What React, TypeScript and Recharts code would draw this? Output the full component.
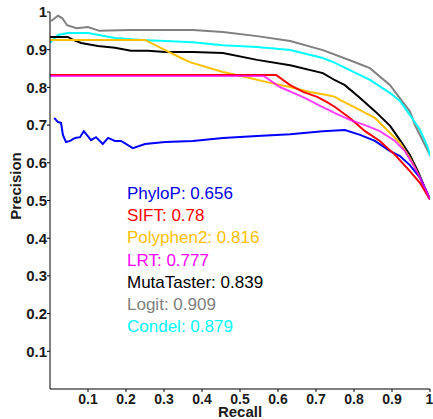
import { LineChart, Line, XAxis, YAxis, Label } from 'recharts';

// [recall, precision] pairs
const phylop: [number, number][] = [
  [0.011, 0.719], [0.021, 0.708], [0.029, 0.706], [0.034, 0.674], [0.042, 0.655],
  [0.053, 0.658], [0.066, 0.666], [0.079, 0.668], [0.089, 0.684], [0.108, 0.66],
  [0.121, 0.668], [0.139, 0.65], [0.153, 0.666], [0.171, 0.658], [0.187, 0.658],
  [0.218, 0.639], [0.25, 0.65], [0.303, 0.655], [0.376, 0.658], [0.455, 0.666],
  [0.545, 0.671], [0.632, 0.676], [0.718, 0.684], [0.776, 0.687], [0.816, 0.674],
  [0.855, 0.658], [0.895, 0.631], [0.921, 0.618], [0.947, 0.594], [0.974, 0.56],
  [1.0, 0.503],
];

const sift: [number, number][] = [
  [0.0, 0.833], [0.595, 0.833], [0.632, 0.806], [0.666, 0.788], [0.703, 0.775],
  [0.729, 0.761], [0.75, 0.748], [0.789, 0.719], [0.829, 0.684], [0.868, 0.658],
  [0.908, 0.621], [0.947, 0.578], [0.974, 0.546], [1.0, 0.503],
];

const polyphen2: [number, number][] = [
  [0.0, 0.926], [0.25, 0.926], [0.303, 0.899], [0.345, 0.878], [0.368, 0.867],
  [0.455, 0.841], [0.526, 0.825], [0.571, 0.814], [0.632, 0.801], [0.684, 0.788],
  [0.729, 0.78], [0.75, 0.775], [0.763, 0.767], [0.816, 0.74], [0.855, 0.719],
  [0.895, 0.679], [0.921, 0.653], [0.947, 0.613], [0.974, 0.56], [1.0, 0.503],
];

const lrt: [number, number][] = [
  [0.0, 0.83], [0.563, 0.83], [0.605, 0.801], [0.666, 0.774], [0.711, 0.751],
  [0.75, 0.732], [0.789, 0.714], [0.829, 0.7], [0.868, 0.684], [0.908, 0.658],
  [0.934, 0.631], [0.961, 0.586], [0.987, 0.533], [1.0, 0.503],
];

const mutaTaster: [number, number][] = [
  [0.0, 0.934], [0.047, 0.934], [0.061, 0.926], [0.082, 0.918], [0.126, 0.91],
  [0.171, 0.905], [0.213, 0.897], [0.258, 0.897], [0.303, 0.894], [0.376, 0.894],
  [0.455, 0.891], [0.545, 0.873], [0.632, 0.859], [0.718, 0.838], [0.75, 0.819],
  [0.776, 0.806], [0.816, 0.772], [0.855, 0.737], [0.895, 0.698], [0.921, 0.66],
  [0.947, 0.621], [0.968, 0.578], [0.987, 0.533], [1.0, 0.503],
];

const logit: [number, number][] = [
  [0.003, 0.976], [0.021, 0.99], [0.032, 0.984], [0.045, 0.965], [0.07, 0.957],
  [0.1, 0.96], [0.13, 0.95], [0.21, 0.952], [0.29, 0.952], [0.376, 0.952],
  [0.455, 0.947], [0.545, 0.936], [0.632, 0.923], [0.718, 0.899], [0.789, 0.872],
  [0.842, 0.851], [0.895, 0.806], [0.921, 0.771], [0.947, 0.737], [0.961, 0.699],
  [0.974, 0.673], [1.0, 0.62],
];

const condel: [number, number][] = [
  [0.0, 0.918], [0.021, 0.939], [0.047, 0.944], [0.1, 0.944], [0.171, 0.931],
  [0.24, 0.926], [0.303, 0.923], [0.376, 0.92], [0.455, 0.912], [0.545, 0.907],
  [0.632, 0.899], [0.718, 0.878], [0.75, 0.865], [0.789, 0.846], [0.842, 0.82],
  [0.895, 0.785], [0.921, 0.764], [0.947, 0.727], [0.974, 0.687], [0.995, 0.639],
  [1.0, 0.618],
];

const seriesNames = ['PhyloP', 'SIFT', 'Polyphen2', 'LRT', 'MutaTaster', 'Logit', 'Condel'];
const aucValues = ['0.656', '0.78', '0.816', '0.777', '0.839', '0.909', '0.879'];
const seriesColors = ['#0000ff', '#ff0000', '#ffc000', '#ff00ff', '#000000', '#808080', '#00ffff'];
const seriesPoints = [phylop, sift, polyphen2, lrt, mutaTaster, logit, condel];

const ticks = [0.1, 0.2, 0.3, 0.4, 0.5, 0.6, 0.7, 0.8, 0.9, 1];

const font = '"Liberation Sans", Arial, sans-serif';
const yTickStyle = { fontSize: 15, fontWeight: 'bold', fill: '#1a1a1a', fontFamily: font };
const xTickStyle = { fontSize: 14, fontWeight: 'bold', fill: '#1a1a1a', fontFamily: font };

// draw order: later ones on top
const drawOrder = [5, 6, 4, 2, 0, 1, 3];

export default function App() {
  return (
    <div style={{ position: 'absolute', left: 0, top: 0, width: 433, height: 419, background: '#fff' }}>
      <LineChart width={433} height={419} margin={{ top: 12, right: 3, left: 0, bottom: 0 }}>
        <XAxis
          type="number"
          dataKey="r"
          domain={[0, 1]}
          ticks={ticks}
          tickFormatter={(v) => String(v)}
          tick={xTickStyle}
          tickSize={3}
          tickMargin={2}
          height={30}
          stroke="#000"
          allowDataOverflow
        >
          <Label
            value="Recall"
            position="insideBottom"
            offset={2}
            style={{ fontSize: 15, fontWeight: 'bold', fill: '#1a1a1a', fontFamily: font }}
          />
        </XAxis>
        <YAxis
          type="number"
          dataKey="p"
          domain={[0, 1]}
          ticks={ticks}
          tickFormatter={(v) => String(v)}
          tick={yTickStyle}
          tickSize={3}
          tickMargin={0}
          width={50}
          stroke="#000"
          allowDataOverflow
        >
          <Label
            content={() => (
              <text
                x={15}
                y={186}
                transform="rotate(-90 15 186)"
                textAnchor="middle"
                dominantBaseline="central"
                style={{ fontSize: 15, fontWeight: 'bold', fill: '#1a1a1a', fontFamily: font }}
              >
                Precision
              </text>
            )}
          />
        </YAxis>
        {drawOrder.map((i) => (
          <Line
            key={seriesNames[i]}
            data={seriesPoints[i].map(([r, p]) => ({ r, p }))}
            dataKey="p"
            type="linear"
            stroke={seriesColors[i]}
            strokeWidth={2}
            strokeOpacity={i === 3 ? 0.75 : 1}
            dot={false}
            isAnimationActive={false}
          />
        ))}
      </LineChart>
      <div
        style={{
          position: 'absolute',
          left: 127,
          top: 183,
          fontFamily: font,
          fontSize: 17,
          lineHeight: '22.2px',
          whiteSpace: 'nowrap',
        }}
      >
        {seriesNames.map((name, i) => (
          <div key={name} style={{ color: seriesColors[i] === '#0000ff' ? '#0000e6' : seriesColors[i] }}>
            {name}: {aucValues[i]}
          </div>
        ))}
      </div>
    </div>
  );
}
